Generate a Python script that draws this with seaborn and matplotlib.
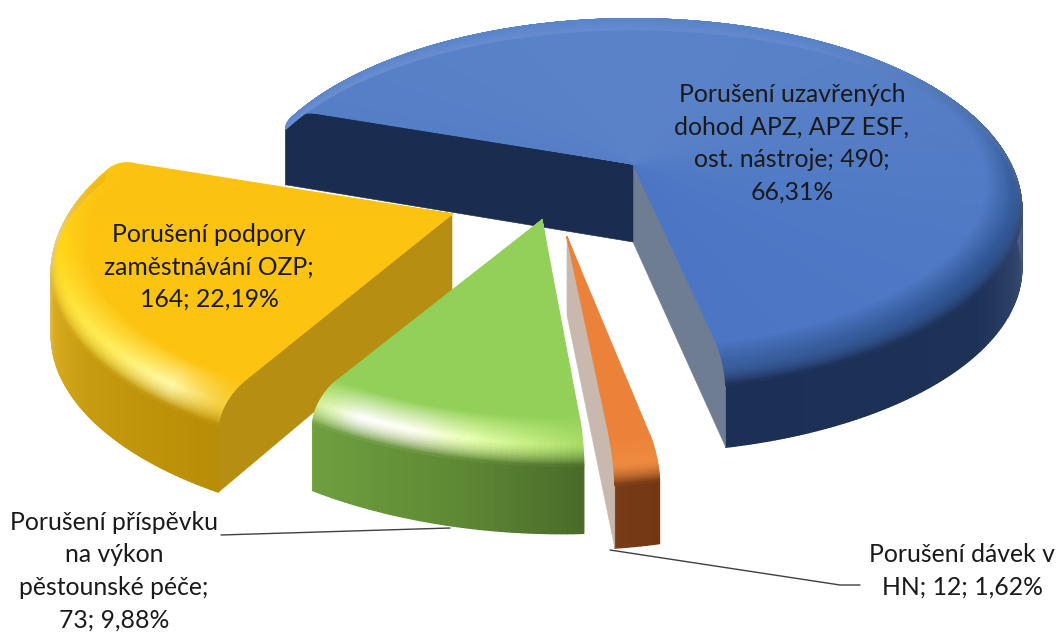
import numpy as np
import matplotlib
matplotlib.use("Agg")
import matplotlib.pyplot as plt
from matplotlib.collections import PolyCollection
from matplotlib.colors import to_rgb
import seaborn as sns

values = [490, 12, 73, 164]
label_text = ["Porušení uzavřených\ndohod APZ, APZ ESF,\nost. nástroje; 490;\n66,31%",
              "Porušení dávek v\nHN; 12; 1,62%",
              "Porušení příspěvku\nna výkon\npěstounské péče;\n73; 9,88%",
              "Porušení podpory\nzaměstnávání OZP;\n164; 22,19%"]

sns.set_theme(style="white")
plt.rcParams['font.family'] = ['Lato', 'DejaVu Sans']

top_near = sns.color_palette(["#4c76c4", "#ec8239", "#93d059", "#fcc310"])
top_far = sns.color_palette(["#5a82c8", "#ec8239", "#97d05e", "#fcc212"])

# projection / style
SX, SY, SZ = 385.0, 171.0, 78.0
K = [0.14, 0.164, 0.164, 0.20]
BEV, BEVZ = 0.09, 0.27
apex = [(633, 164), (567, 237), (542, 220), (452, 214)]
xscale = [1.0, 0.97, 1.01, 1.02]
yscale = [1.027, 1.11, 1.08, 1.04]
depth = [1.0, 1.0, 1.08, 1.05]
rot = [0.0, 0.0, -1.0, 0.0]
shear = [0.0, 0.0, 12.0, 0.0]
inner = [("#6f7d92", "#1a2d50"), ("#c9b8ae", "#c9b8ae"), ("#6d9c3c", "#6d9c3c"), ("#b58e12", "#b58e12")]
rim_stops = [
    ([-78, -30, 0, 40, 90, 161], ["#3a5f9f", "#2f5492", "#38609f", "#5580c8", "#5a84cb", "#5c85cb"]),
    ([-84, -78], ["#ee8a40", "#ee8a40"]),
    ([-120, -113, -105, -98, -90, -84], ["#d0f090", "#ffffff", "#fffff0", "#e8ffb0", "#c4ee80", "#a8dc68"]),
    ([-199, -170, -140, -128, -120], ["#fcc310", "#ffd818", "#ffef60", "#fff8a8", "#f6d040"]),
]
wall_stops = [
    ([-78, -35, -15, 0, 20, 60, 161], ["#1c2f55", "#1e3258", "#33466c", "#4a6088", "#4f72b0", "#6488cc", "#6a8ed0"]),
    ([-84, -78], ["#7a3c18", "#733714"]),
    ([-120, -100, -84], ["#70a040", "#5f8a35", "#4a6b2a"]),
    ([-199, -190, -180, -170, -160, -145, -120],
     ["#f0b808", "#e8c040", "#e9cf80", "#e4c570", "#d8ab20", "#c89c10", "#b98d05"]),
]


def ramp(th, stops):
    xs, cs = stops
    arr = np.array([to_rgb(c) for c in cs])
    return np.stack([np.interp(th, xs, arr[:, i]) for i in range(3)], axis=-1)


def mix(a, b, t):
    return np.asarray(a) * (1 - t) + np.asarray(b) * t


def project(i, r, th, z):
    """Slice i: polar plan position + drop z -> figure pixels."""
    u = r * np.cos(np.radians(th + rot[i]))
    v = r * np.sin(np.radians(th + rot[i]))
    w = 1.0 / (1.0 + K[i] * v)
    x = apex[i][0] + SX * xscale[i] * u * w
    y = (apex[i][1] - SY * yscale[i] * v * w + shear[i] * u
         + SZ * depth[i] * z * (1 + (w - 1) * 0.5))
    return x, y


def mesh(ax, i, rr, zz, th, colorfn, zorder, lw):
    polys, cols = [], []
    for a in range(len(rr) - 1):
        for b in range(len(th) - 1):
            x0, y0 = project(i, rr[a], th[b], zz[a])
            x1, y1 = project(i, rr[a], th[b + 1], zz[a])
            x2, y2 = project(i, rr[a + 1], th[b + 1], zz[a + 1])
            x3, y3 = project(i, rr[a + 1], th[b], zz[a + 1])
            polys.append([(x0, y0), (x1, y1), (x2, y2), (x3, y3)])
            cols.append(colorfn(a, 0.5 * (th[b] + th[b + 1])))
    ax.add_collection(PolyCollection(polys, facecolors=cols, edgecolors=cols,
                                     linewidths=lw, zorder=zorder))


fig = plt.figure(figsize=(10.56, 6.32), dpi=100)
ax = fig.add_axes([0, 0, 1, 1])
wedges, _ = ax.pie(values, startangle=160.7, counterclock=False, colors=top_near)
angles = [(w.theta1, w.theta2) for w in wedges]
for w in wedges:
    w.remove()
ax.set_aspect("auto")
ax.set_xlim(0, 1056)
ax.set_ylim(632, 0)
ax.axis("off")

phi = np.linspace(0, np.pi / 2, 26)
bev_r = 1 - BEV + BEV * np.sin(phi)
bev_z = BEVZ * (1 - np.cos(phi))
rflat = np.linspace(0, 1 - BEV, 16)
profile_r = np.r_[rflat, bev_r[1:], 1.0, 0.0]
profile_z = np.r_[np.zeros(16), bev_z[1:], 1.0, 1.0]

orders = [0, 3, 2, 1]
for lvl, i in enumerate(orders):
    t1, t2 = angles[i]
    if i == 3 and t1 > 0:
        t1, t2 = t1 - 360, t2 - 360
    n = max(6, int((t2 - t1) * 1.5))
    th = np.linspace(t1, t2, n)
    z0 = 10 + lvl * 10

    # outer wall
    mesh(ax, i, [1.0, 1.0], [BEVZ, 1.0], th,
         lambda a, t, i=i: tuple(ramp(t, wall_stops[i])), z0, 1.0)

    # cut faces: skip the one that lies under the slice's own top
    for edge, inside, colr in ((t1, t1 + 0.5, inner[i][0]), (t2, t2 - 0.5, inner[i][1])):
        ex, ey = project(i, 1 - BEV, edge, 0)
        ax0, ay0 = apex[i]
        ix, iy = project(i, 0.6, inside, 0)
        ysec = ay0 + (ey - ay0) * (ix - ax0) / (ex - ax0) if ex != ax0 else -1e9
        if iy > ysec:
            continue
        xs, ys = project(i, profile_r, np.full_like(profile_r, edge), profile_z)
        ax.fill(xs, ys, facecolor=colr, edgecolor=colr, lw=0.4, zorder=z0 + 1)

    # flat top
    def top_color(a, t, i=i):
        v = np.sin(np.radians(t)) * 0.5 + 0.5
        return tuple(mix(top_near[i], top_far[i], v))
    mesh(ax, i, rflat, np.zeros(16), th, top_color, z0 + 2, 0.8)

    # bevel
    def bev_color(a, t, i=i):
        p = (a + 0.5) / (len(phi) - 1)
        v = np.sin(np.radians(t)) * 0.5 + 0.5
        base = mix(top_near[i], top_far[i], v)
        rim = ramp(t, rim_stops[i])
        wall = ramp(t, wall_stops[i])
        if p < 0.55:
            return tuple(mix(base, rim, p / 0.55))
        return tuple(mix(rim, wall, ((p - 0.55) / 0.45) ** 1.5))
    mesh(ax, i, bev_r, bev_z, th, bev_color, z0 + 3, 1.0)

# leader lines
ax.plot([221, 450], [535, 528], color="#404040", lw=1.0, zorder=5)
ax.plot([610, 840, 860], [550, 585, 585], color="#404040", lw=1.0, zorder=5)

tk = dict(ha="center", va="center", color="#1a1a1a", fontsize=17.8, linespacing=1.5, zorder=100)
ax.text(792, 143, label_text[0], **tk)
ax.text(209, 267, label_text[3], **tk)
ax.text(114, 571, label_text[2], **tk)
ax.text(962, 571, label_text[1], **tk)

fig.savefig("out.png", dpi=100, facecolor="white")
